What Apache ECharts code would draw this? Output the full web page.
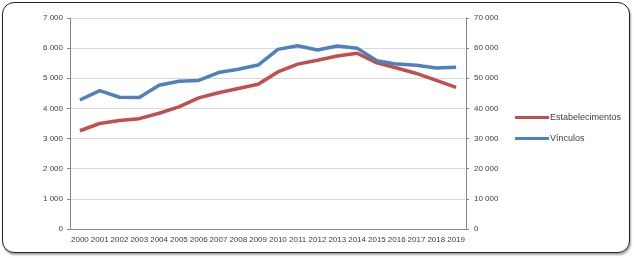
<!DOCTYPE html>
<html>
<head>
<meta charset="utf-8">
<script src="https://cdn.jsdelivr.net/npm/echarts@6/dist/echarts.min.js"></script>
<style>
  html, body { margin: 0; padding: 0; background: #fff; }
  #frame {
    position: absolute; left: 2px; top: 2px; width: 626px; height: 249px;
    border: 1.5px solid #222; border-radius: 12px;
    box-shadow: 1px 2px 2px rgba(0,0,0,0.35);
    background: #fff;
  }
  #chart { position: absolute; left: 0; top: 0; width: 634px; height: 258px; }
</style>
</head>
<body>
<div id="frame"></div>
<div id="chart"></div>
<script>
const years = ['2000','2001','2002','2003','2004','2005','2006','2007','2008','2009',
  '2010','2011','2012','2013','2014','2015','2016','2017','2018','2019']
const estabelecimentos = [3260, 3500, 3600, 3660, 3840, 4050, 4350, 4520, 4660, 4800,
  5210, 5470, 5600, 5740, 5830, 5510, 5340, 5160, 4930, 4700]
const vinculos = [42800, 45900, 43700, 43600, 47700, 49000, 49300, 51900, 53000, 54400,
  59600, 60800, 59400, 60700, 60000, 55800, 54700, 54300, 53400, 53700]

const FONT = 'Liberation Sans'
const TEXT = '#404040'
const AXIS = '#868686'
const GRIDLINE = '#d9d9d9'

const fmt = v => String(v).replace(/\B(?=(\d{3})+(?!\d))/g, ' ')

const axisBase = {
  type: 'value',
  axisLine: { show: true, lineStyle: { color: AXIS, width: 1 } },
  axisTick: { show: true, inside: false, length: 3, lineStyle: { color: AXIS } },
  splitLine: { lineStyle: { color: GRIDLINE, width: 1 } },
  axisLabel: { color: TEXT, fontFamily: FONT, fontSize: 8, formatter: fmt }
}

const chart = echarts.init(document.getElementById('chart'), null, { renderer: 'canvas' })
chart.setOption({
  animation: false,
  textStyle: { fontFamily: FONT },
  grid: { left: 70, right: 168, top: 18, bottom: 29 },
  legend: {
    orient: 'vertical',
    left: 510, top: 108,
    itemWidth: 34, itemHeight: 3, itemGap: 12,
    icon: 'rect',
    textStyle: { color: TEXT, fontFamily: FONT, fontSize: 9, padding: [0, 0, 0, -4] },
    data: ['Estabelecimentos', 'Vínculos']
  },
  xAxis: {
    type: 'category',
    data: years,
    boundaryGap: true,
    axisLine: { lineStyle: { color: AXIS } },
    axisTick: { show: false },
    axisLabel: { color: TEXT, fontFamily: FONT, fontSize: 8, margin: 7, interval: 0 }
  },
  yAxis: [
    Object.assign({}, axisBase, { min: 0, max: 7000, interval: 1000,
      axisLabel: Object.assign({}, axisBase.axisLabel, { margin: 7 }) }),
    Object.assign({}, axisBase, { min: 0, max: 70000, interval: 10000, position: 'right',
      splitLine: { show: false },
      axisLabel: Object.assign({}, axisBase.axisLabel, { margin: 8 }) })
  ],
  series: [
    {
      name: 'Estabelecimentos', type: 'line', yAxisIndex: 0,
      data: estabelecimentos, symbol: 'none',
      lineStyle: { color: '#C0504D', width: 3.5 }, itemStyle: { color: '#C0504D' }
    },
    {
      name: 'Vínculos', type: 'line', yAxisIndex: 1,
      data: vinculos, symbol: 'none',
      lineStyle: { color: '#4F81BD', width: 3.5 }, itemStyle: { color: '#4F81BD' }
    }
  ]
})
</script>
</body>
</html>
